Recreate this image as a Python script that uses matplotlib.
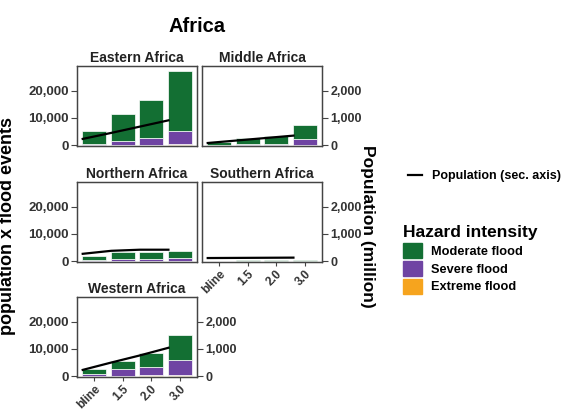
import numpy as np
import matplotlib.pyplot as plt
from matplotlib.lines import Line2D
from matplotlib.patches import Patch

plt.rcParams['font.family'] = ['Liberation Sans', 'DejaVu Sans']
plt.rcParams['font.weight'] = 'bold'

#=== Data ===#
scenarios = ['bline', '1.5', '2.0', '3.0']
regions = ['Eastern Africa', 'Middle Africa', 'Northern Africa', 'Southern Africa', 'Western Africa']

moderate = {
    'Eastern Africa': [4650, 9900, 14050, 22000],
    'Middle Africa': [880, 2370, 2850, 5250],
    'Northern Africa': [1650, 2520, 2700, 2580],
    'Southern Africa': [200, 250, 250, 300],
    'Western Africa': [1600, 2900, 5100, 9100],
}
severe = {
    'Eastern Africa': [400, 1500, 2500, 5000],
    'Middle Africa': [100, 300, 400, 2000],
    'Northern Africa': [300, 600, 700, 900],
    'Southern Africa': [20, 30, 30, 50],
    'Western Africa': [800, 2300, 3200, 5300],
}
extreme = {
    'Eastern Africa': [50, 100, 150, 300],
    'Middle Africa': [20, 30, 50, 150],
    'Northern Africa': [50, 80, 100, 120],
    'Southern Africa': [5, 5, 5, 10],
    'Western Africa': [100, 200, 300, 600],
}
population = {  # million, secondary axis
    'Eastern Africa': [230, 450, 680, 910],
    'Middle Africa': [80, 170, 260, 350],
    'Northern Africa': [270, 380, 420, 420],
    'Southern Africa': [115, 120, 125, 130],
    'Western Africa': [230, 500, 760, 1040],
}

col_mod = '#136f33'
col_sev = '#6f44a3'
col_ext = '#f6a41e'
frame_col = '#444444'
txt_col = '#333333'

###############################################################################
#                                   Figure                                    #
###############################################################################
W, H = 571, 412
fig = plt.figure(figsize=(W / 100, H / 100), dpi=100)

def px_axes(left, top, w, h):
    return fig.add_axes([left / W, 1 - (top + h) / H, w / W, h / H])

col_left = [77, 202]
row_top = [66, 182, 297]
pw, ph = 120, 80
line_shift = -0.4

for i, reg in enumerate(regions):
    r, c = divmod(i, 2)
    ax = px_axes(col_left[c], row_top[r], pw, ph)
    x = np.arange(len(scenarios))
    ext = np.array(extreme[reg])
    sev = np.array(severe[reg])
    mod = np.array(moderate[reg])
    ax.bar(x, ext, width=0.85, color=col_ext, edgecolor='white', linewidth=0.5)
    ax.bar(x, sev, bottom=ext, width=0.85, color=col_sev, edgecolor='white', linewidth=0.5)
    ax.bar(x, mod, bottom=ext + sev, width=0.85, color=col_mod, edgecolor='white', linewidth=0.5)
    ax.set_xlim(-0.6, 3.6)
    ax.set_ylim(-300, 29000)

    ax2 = ax.twinx()
    ax2.plot(x + line_shift, population[reg], color='black', lw=1.6)
    ax2.set_ylim(-30, 2900)

    for a in (ax, ax2):
        for s in a.spines.values():
            s.set_color(frame_col)
            s.set_linewidth(0.9)
        a.tick_params(colors=frame_col, labelcolor=txt_col, labelsize=9.5, length=4, width=0.8, pad=2)

    #=== Left axis only on first column ===#
    if c == 0:
        ax.set_yticks([0, 10000, 20000])
        ax.set_yticklabels(['0', '10,000', '20,000'], fontweight='bold')
    else:
        ax.set_yticks([])

    #=== Secondary axis on right column and last panel ===#
    if c == 1 or i == len(regions) - 1:
        ax2.set_yticks([0, 1000, 2000])
        ax2.set_yticklabels(['0', '1,000', '2,000'], fontweight='bold')
        ax2.tick_params(labelsize=9)
    else:
        ax2.set_yticks([])

    #=== x labels on bottom of each column ===#
    if i >= 3:
        ax.set_xticks(x)
        ax.set_xticklabels(scenarios, rotation=45, ha='right', rotation_mode='anchor',
                           fontweight='bold', fontsize=8.5)
        ax.tick_params(axis='x', length=3, pad=1.5)
    else:
        ax.set_xticks([])

    ax.set_title(reg, fontsize=10, fontweight='bold', color='#222222', pad=3)

fig.text(197 / W, 1 - 26 / H, 'Africa', fontsize=14.5, fontweight='bold', ha='center', va='center')
fig.text(8 / W, 1 - 226 / H, 'population x flood events', rotation=90, fontsize=13,
         fontweight='bold', ha='center', va='center')
fig.text(367 / W, 1 - 226 / H, 'Population (million)', rotation=270, fontsize=12.5,
         fontweight='bold', ha='center', va='center')

#=== Legends ===#
leg1 = fig.legend(handles=[Line2D([], [], color='black', lw=1.6)], labels=['Population (sec. axis)'],
                  loc='center left', bbox_to_anchor=(397 / W, 1 - 176 / H), frameon=False,
                  prop={'size': 9, 'weight': 'bold'}, handlelength=1.1, handletextpad=0.8)
handles = [Patch(color=col_mod), Patch(color=col_sev), Patch(color=col_ext)]
leg2 = fig.legend(handles=handles, labels=['Moderate flood', 'Severe flood', 'Extreme flood'],
                  title='Hazard intensity', loc='upper left', bbox_to_anchor=(392 / W, 1 - 214 / H),
                  frameon=False, prop={'size': 9.2, 'weight': 'bold'},
                  title_fontproperties={'size': 12.5, 'weight': 'bold'}, alignment='left',
                  handlelength=1.45, handleheight=1.45, labelspacing=0.2, handletextpad=0.7)

plt.savefig('out.png', dpi=100)
